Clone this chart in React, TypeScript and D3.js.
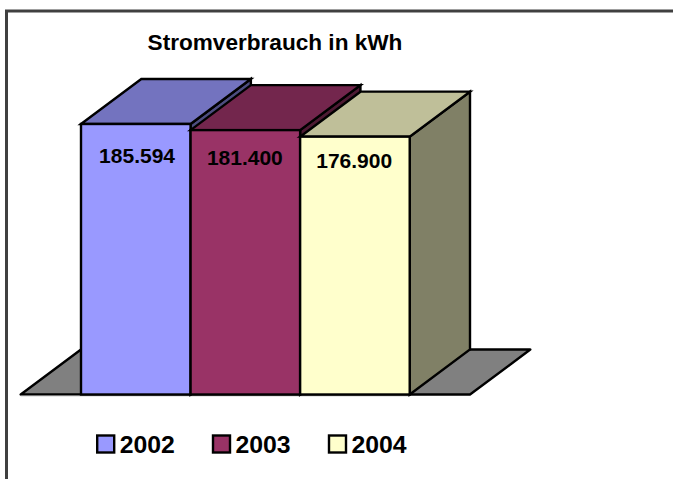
import React from "react";
import * as d3 from "d3";

const years = ["2002", "2003", "2004"];
const values = [185594, 181400, 176900];
const labels = ["185.594", "181.400", "176.900"];
const fronts = ["#9999FF", "#993366", "#FFFFCC"];
const tops = ["#7373BF", "#73264D", "#BFBF99"];
const sides = ["#4D4D80", "#4D1A33", "#808066"];
const title = "Stromverbrauch in kWh";

const W = 673;
const H = 479;
const baseY = 394.5;
const dx = 60.3;
const dy = -45;
const font = "'Liberation Sans', Arial, sans-serif";
const lineW = 2.4;

const x = d3.scaleBand<string>().domain(years).range([81, 409.7]).padding(0);
const y = d3.scaleLinear().domain([0, 185594]).range([baseY, 124]);
const labelY = d3.scaleLinear().domain([176900, 185594]).range([168.2, 162.6]);

const poly = d3.line<[number, number]>().curve(d3.curveLinearClosed);

export default function App() {
  const left = x.range()[0];
  const right = x.range()[1];
  const floor = poly([
    [left - dx, baseY],
    [right + dx, baseY],
    [right + 2 * dx, baseY + dy],
    [left, baseY + dy],
  ]) as string;
  const legendX = [96.7, 212.5, 328.5];
  return (
    <svg
      width={W}
      height={H}
      viewBox={`0 0 ${W} ${H}`}
      style={{ position: "fixed", left: 0, top: 0, display: "block", background: "#fff" }}
    >
      <path d={`M6.5 ${H + 5}V11H${W + 5}`} fill="none" stroke="#404040" strokeWidth={3} />
      <text x={275} y={49.5} textAnchor="middle" fontFamily={font} fontWeight="bold" fontSize={22.6} fill="#000">
        {title}
      </text>
      <path d={floor} fill="#808080" stroke="#000" strokeWidth={lineW} strokeLinejoin="round" />
      <line x1={left - dx} x2={right} y1={baseY + 1.2} y2={baseY + 1.2} stroke="#808080" strokeWidth={1} />
      {values.map((v, i) => {
        const x0 = x(years[i]) as number;
        const x1 = x0 + x.bandwidth();
        const yt = y(v);
        return (
          <g key={years[i]} stroke="#000" strokeWidth={lineW} strokeLinejoin="miter">
            <path
              d={poly([[x1, baseY], [x1 + dx, baseY + dy], [x1 + dx, yt + dy], [x1, yt]]) as string}
              fill={sides[i]}
            />
            <path
              d={poly([[x0, yt], [x0 + dx, yt + dy], [x1 + dx, yt + dy], [x1, yt]]) as string}
              fill={tops[i]}
            />
            <rect x={x0} y={yt} width={x.bandwidth()} height={baseY - yt} fill={fronts[i]} />
          </g>
        );
      })}
      {values.map((v, i) => (
        <text
          key={labels[i]}
          x={(x(years[i]) as number) + x.bandwidth() / 2 + [1.3, -0.5, -0.7][i]}
          y={labelY(v)}
          textAnchor="middle"
          fontFamily={font}
          fontWeight="bold"
          fontSize={21}
          fill="#000"
        >
          {labels[i]}
        </text>
      ))}
      {years.map((yr, i) => (
        <g key={yr}>
          <rect x={legendX[i] + 0.5} y={435.5} width={17} height={17} fill={fronts[i]} stroke="#000" strokeWidth={lineW} />
          <text x={legendX[i] + 23} y={452.5} fontFamily={font} fontWeight="bold" fontSize={24.8} fill="#000">
            {yr}
          </text>
        </g>
      ))}
    </svg>
  );
}
